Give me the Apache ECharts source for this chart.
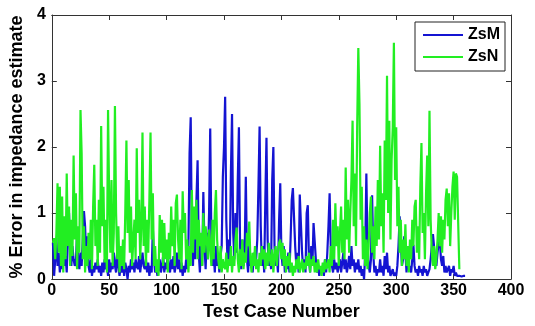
<!DOCTYPE html>
<html>
<head>
<meta charset="utf-8">
<script src="https://cdn.jsdelivr.net/npm/echarts@6/dist/echarts.min.js"></script>
<style>
html,body{margin:0;padding:0;background:#fff;}
#chart{width:535px;height:326px;}
</style>
</head>
<body>
<div id="chart"></div>
<script>
// Series values (test case number = index + 1)
var zsM = [
0.55,0.05,0.3,0.62,0.2,0.4,0.1,0.3,0.15,0.5,
0.2,0.35,0.1,0.6,1.0,0.4,0.2,0.5,0.3,0.2,
0.25,0.7,0.3,0.15,0.4,0.2,0.6,1.03,0.8,0.3,
0.65,0.2,0.1,0.3,0.05,0.2,0.1,0.25,0.15,0.3,
0.1,0.2,0.05,0.25,0.1,0.3,0.15,0.2,0.05,0.3,
0.1,0.25,0.15,0.4,0.2,0.1,0.45,0.2,0.05,0.2,
0.1,0.3,0.05,0.25,0.15,0.0,0.2,0.1,0.3,0.15,
0.25,0.1,0.3,0.2,0.15,0.35,0.1,0.25,0.4,0.2,
0.15,0.3,0.1,0.25,0.05,0.2,0.1,0.78,0.3,0.1,
0.2,0.05,0.15,0.3,0.1,0.2,0.35,0.1,0.25,0.15,
0.4,0.2,0.1,0.3,0.15,0.35,0.1,0.2,0.4,0.15,
0.3,0.1,0.25,0.05,0.2,0.1,0.3,0.15,0.5,1.9,
2.45,0.6,0.2,1.0,0.3,1.2,1.8,0.4,0.1,0.6,
0.2,1.32,0.5,0.15,0.7,0.3,1.0,2.28,0.6,0.2,
0.4,0.1,0.5,0.2,0.3,0.1,0.35,0.5,1.55,2.0,
2.76,0.9,0.3,0.6,0.2,1.6,2.5,0.7,0.3,1.0,
0.4,1.5,2.3,0.5,0.15,0.6,0.2,0.4,1.55,0.3,
0.1,0.5,0.2,0.35,0.1,0.4,0.2,0.3,0.6,1.4,
2.31,0.8,0.2,0.5,0.1,1.2,2.14,0.6,0.2,0.4,
0.15,1.5,2.0,0.5,0.2,0.35,0.1,0.9,1.45,0.4,
0.2,0.5,0.1,0.3,0.15,0.4,0.1,0.6,1.2,1.38,
1.35,0.5,0.2,0.4,0.1,1.28,1.25,0.4,0.15,0.3,
0.1,1.0,1.12,0.3,0.1,0.5,0.2,0.85,0.82,0.3,
0.1,0.2,0.05,0.15,0.1,0.2,0.05,0.3,0.1,0.4,
0.8,1.3,0.5,0.2,0.1,0.3,0.15,0.25,0.1,0.2,
0.3,0.1,0.25,0.4,0.15,0.3,0.1,0.2,0.35,0.15,
0.5,0.2,0.3,0.1,0.25,0.15,0.3,0.1,0.2,0.05,
0.15,0.0,0.4,1.6,0.5,0.2,0.1,0.3,1.27,0.4,
0.1,0.2,0.05,0.15,0.1,0.3,0.1,0.2,0.05,0.35,
0.15,0.4,0.1,0.2,0.05,0.1,0.15,0.05,0.1,0.05,
0.2,0.5,0.95,0.6,0.2,0.3,0.65,0.4,0.1,0.3,
0.15,0.2,0.1,0.3,0.52,0.2,0.1,0.15,0.05,0.2,
0.1,0.15,0.05,0.2,0.1,0.15,0.05,0.1,0.15,0.3,
0.5,0.68,0.65,0.3,0.2,0.4,0.55,0.6,0.3,0.2,
0.35,0.1,0.2,0.1,0.15,0.2,0.05,0.15,0.1,0.2,
0.05,0.1,0.05,0.08,0.05,0.06,0.04,0.07,0.05,0.05
];
var zsN = [
0.55,0.62,0.3,0.7,1.45,0.4,1.4,0.2,1.25,0.1,
0.95,0.3,1.6,0.5,1.1,0.2,0.9,0.35,1.87,0.6,
1.3,0.15,0.8,0.4,2.56,1.9,0.3,0.8,0.1,0.5,
0.2,0.7,0.3,0.9,0.15,1.1,1.73,0.5,0.9,0.2,
1.2,0.4,2.32,0.8,1.4,0.25,0.9,0.1,2.56,1.2,
0.4,1.5,0.2,0.7,2.62,1.0,0.3,0.8,0.1,0.5,
0.2,0.6,0.15,1.0,2.1,0.7,1.5,0.4,1.1,0.2,
0.6,0.9,0.3,1.98,0.7,1.2,0.3,0.8,2.22,0.5,
1.1,0.2,0.9,0.4,1.2,2.22,0.6,1.3,0.2,0.5,
0.1,0.3,0.05,0.97,0.4,0.9,0.2,0.85,0.3,0.6,
0.1,0.7,0.3,1.1,0.5,0.9,0.2,1.15,1.28,0.6,
0.3,0.9,0.15,1.33,0.7,1.0,0.3,0.6,0.1,0.5,
0.2,1.35,0.4,1.1,0.6,1.2,0.3,0.9,0.5,0.7,
0.2,1.0,0.4,0.8,0.6,0.3,0.75,0.5,0.2,0.9,
0.3,1.0,1.35,0.6,0.3,0.15,0.5,0.1,0.3,0.2,
0.15,0.4,0.1,0.3,0.2,0.5,0.1,0.35,0.2,0.6,
0.78,0.3,0.1,0.45,0.2,0.6,0.15,0.4,0.25,0.7,
0.5,0.87,0.3,0.1,0.4,0.2,0.5,0.15,0.3,0.1,
0.4,0.2,0.5,0.3,0.45,0.15,0.4,0.2,0.55,0.3,
0.2,0.45,0.1,0.35,0.5,0.2,0.4,0.55,0.6,0.3,
0.55,0.2,0.45,0.1,0.35,0.2,0.4,0.1,0.25,0.05,
0.2,0.1,0.3,0.15,0.35,0.1,0.2,0.3,0.1,0.25,
0.15,0.35,0.2,0.4,0.1,0.3,0.2,0.35,0.1,0.25,
0.1,0.3,0.15,0.2,0.05,0.25,0.1,0.3,0.15,0.2,
0.3,0.1,0.5,0.2,0.9,0.3,1.15,0.5,0.8,0.2,
0.7,1.1,0.4,0.9,0.3,1.69,0.6,1.2,0.4,1.0,
1.5,2.4,0.8,1.6,0.5,2.3,3.5,2.65,0.9,1.4,
0.3,0.8,0.2,0.6,0.15,0.5,1.0,1.25,0.4,0.8,
0.3,1.1,0.5,1.5,0.6,2.02,0.8,1.3,0.4,2.1,
1.2,3.08,1.0,2.4,0.6,1.8,2.3,3.58,1.5,2.3,
0.8,1.4,0.4,0.9,0.2,0.6,0.3,0.83,0.2,0.5,
0.1,0.6,0.3,0.9,0.5,1.1,1.2,0.4,0.8,0.3,
1.4,2.06,0.7,1.0,0.3,1.3,1.87,0.8,2.55,0.9,
0.4,0.2,0.5,0.15,0.3,0.6,1.0,0.5,0.95,0.4,
0.9,0.6,1.2,1.37,0.8,1.3,0.5,1.0,1.4,1.63,
0.9,1.6,1.55,0.85,0.15
];
var seriesNames = ['ZsM', 'ZsN'];
var xTicks = {min: 0, max: 400, interval: 50};
var yTicks = {min: 0, max: 4, interval: 1};

function pairs(arr) {
  return arr.map(function (v, i) { return [i + 1, v]; });
}

var chart = echarts.init(document.getElementById('chart'), null, {renderer: 'canvas'});
var fontFam = '"Liberation Sans", Arial, sans-serif';
function axisCommon() {
  return {
    axisLine: {show: true, onZero: false, lineStyle: {color: '#333', width: 1}},
    axisTick: {show: true, inside: true, length: 5, lineStyle: {color: '#333'}},
    splitLine: {show: false}
  };
}
chart.setOption({
  animation: false,
  backgroundColor: '#fff',
  grid: {left: 48, right: 24, top: 15, bottom: 41},
  legend: {
    data: seriesNames.map(function (n) { return {name: n, icon: 'rect'}; }),
    orient: 'vertical',
    left: 415, top: 22,
    padding: [5, 5, 6, 8],
    itemGap: 6,
    itemWidth: 40, itemHeight: 2,
    borderColor: '#222', borderWidth: 1,
    backgroundColor: '#fff',
    textStyle: {fontFamily: fontFam, fontWeight: 'bold', fontSize: 16, color: '#000', lineHeight: 16}
  },
  xAxis: [
    Object.assign(axisCommon(), {
      type: 'value', min: xTicks.min, max: xTicks.max, interval: xTicks.interval,
      position: 'bottom',
      name: 'Test Case Number', nameLocation: 'middle', nameGap: 23,
      nameTextStyle: {fontFamily: fontFam, fontWeight: 'bold', fontSize: 18, color: '#000'},
      axisLabel: {fontFamily: fontFam, fontWeight: 'bold', fontSize: 16, color: '#000', margin: 3}
    }),
    Object.assign(axisCommon(), {
      type: 'value', min: xTicks.min, max: xTicks.max, interval: xTicks.interval,
      position: 'top', axisLabel: {show: false}
    })
  ],
  yAxis: [
    Object.assign(axisCommon(), {
      type: 'value', min: yTicks.min, max: yTicks.max, interval: yTicks.interval,
      position: 'left',
      name: '% Error in impedance estimate', nameLocation: 'middle', nameGap: 25,
      nameTextStyle: {fontFamily: fontFam, fontWeight: 'bold', fontSize: 18, color: '#000'},
      axisLabel: {fontFamily: fontFam, fontWeight: 'bold', fontSize: 16, color: '#000', margin: 6}
    }),
    Object.assign(axisCommon(), {
      type: 'value', min: yTicks.min, max: yTicks.max, interval: yTicks.interval,
      position: 'right', axisLabel: {show: false}
    })
  ],
  series: [
    {
      name: seriesNames[0], type: 'line', data: pairs(zsM),
      xAxisIndex: 0, yAxisIndex: 0,
      symbol: 'none', showSymbol: false,
      lineStyle: {color: '#1414d2', width: 2.2},
      itemStyle: {color: '#1414d2'}
    },
    {
      name: seriesNames[1], type: 'line', data: pairs(zsN),
      xAxisIndex: 0, yAxisIndex: 0,
      symbol: 'none', showSymbol: false,
      lineStyle: {color: '#22ee22', width: 2.2},
      itemStyle: {color: '#22ee22'}
    }
  ]
});
</script>
</body>
</html>
